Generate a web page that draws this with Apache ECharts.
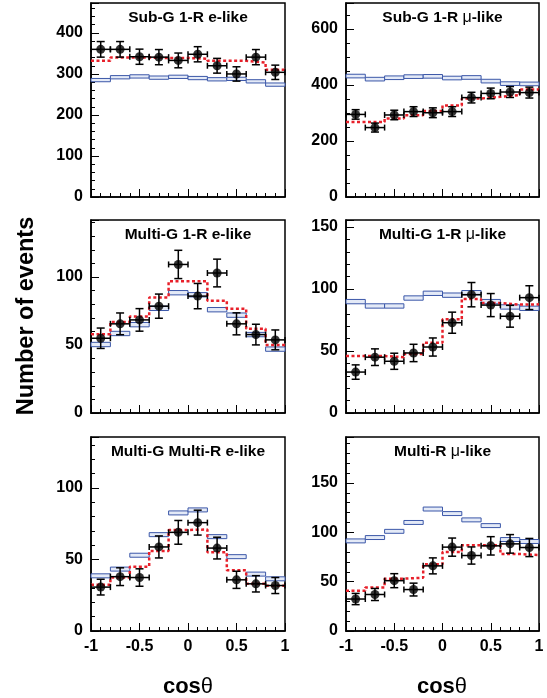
<!DOCTYPE html>
<html><head><meta charset="utf-8">
<script src="https://cdn.jsdelivr.net/npm/echarts@6/dist/echarts.min.js"></script>
<style>html,body{margin:0;padding:0;background:#fff}#c{width:547px;height:698px}</style>
</head><body><div id="c"></div>
<script>
// bin edges in cos(theta)
const binEdges = [-1,-0.8,-0.6,-0.4,-0.2,0,0.2,0.4,0.6,0.8,1];
const binCenters = [-0.9,-0.7,-0.5,-0.3,-0.1,0.1,0.3,0.5,0.7,0.9];

// panel titles (prefix, mu?, suffix)
const titlePre = ['Sub-G 1-R e-like','Sub-G 1-R ','Multi-G 1-R e-like','Multi-G 1-R ','Multi-G Multi-R e-like','Multi-R '];
const titleMu  = ['', '\u03bc', '', '\u03bc', '', '\u03bc'];
const titlePost= ['', '-like', '', '-like', '', '-like'];

// y axis ranges / tick steps
const yMax = [473, 693, 142, 155.6, 135.7, 196.6];
const yStep = [100, 200, 50, 50, 50, 50];
const yMinorSplit = [5, 4, 5, 5, 5, 5];

// Panel 1: Sub-G 1-R e-like
const p1Data = [360,360,342,341,333,348,320,300,341,304];
const p1Err  = [19,19,18.5,18.5,18,18.5,18,17.5,18.5,17.5];
const p1Fit  = [332,340,340,339,339,337,332,332,328,310];
const p1Nom  = [285,292,294,291,293,290,287,288,282,274];
const p1NomE = [4,4,4,4,4,4,4,4,4,4];

// Panel 2: Sub-G 1-R mu-like
const p2Data = [295,248,293,305,301,305,355,370,375,373];
const p2Err  = [17,16,17,17.5,17.5,17.5,19,19,19.5,19.5];
const p2Fit  = [268,268,280,292,307,327,352,358,364,384];
const p2Nom  = [432,421,426,430,431,425,427,414,405,404];
const p2NomE = [6.5,6.5,6.5,6.5,6.5,6.5,6.5,6.5,6.5,6.5];

// Panel 3: Multi-G 1-R e-like
const p3Data = [55,65.6,68.5,78.6,109.3,86,103,65.6,57.7,53.8];
const p3Err  = [7.5,8,8.3,8.9,10.4,9.3,10.2,8.1,7.6,7.3];
const p3Fit  = [58,67,71,85,97,97,82.5,76.7,62,50];
const p3Nom  = [50.4,58.5,65,77,88.5,87,76,72,57.7,47];
const p3NomE = [1.6,1.6,1.6,1.6,1.6,1.6,1.6,1.6,1.6,1.6];

// Panel 4: Multi-G 1-R mu-like
const p4Data = [33,45,41.7,48.4,53.2,72.8,95.4,87,78,93];
const p4Err  = [5.8,6.7,6.5,7,7.3,8.5,9.8,9.3,8.8,9.6];
const p4Fit  = [46,46,45,47.6,56.7,75.5,92,88.7,87.4,87.6];
const p4Nom  = [89.8,86.3,86.3,92.7,96.5,95,97,89.8,85.5,84.4];
const p4NomE = [1.75,1.75,1.75,1.75,1.75,1.75,1.75,1.75,1.75,1.75];

// Panel 5: Multi-G Multi-R e-like
const p5Data = [30.7,38,37.4,58.8,69,75.8,58,35.8,33,31.8];
const p5Err  = [5.5,6.2,6.1,7.7,8.3,8.7,7.6,6,5.7,5.6];
const p5Fit  = [32.3,37.4,45,56,70.7,71,55,42.5,33,31.6];
const p5Nom  = [38.6,43.3,53,67.4,82.6,84.7,66,52,39.8,36.5];
const p5NomE = [1.4,1.4,1.4,1.4,1.4,1.4,1.4,1.4,1.4,1.4];

// Panel 6: Multi-R mu-like
const p6Data = [32.4,37,51,42,66,85,76.5,86.3,88.3,84.6];
const p6Err  = [5.7,6.1,7.1,6.5,8.1,9.2,8.7,9.3,9.4,9.2];
const p6Fit  = [40.8,44,53,54,67.7,80,87,87,78,77];
const p6Nom  = [91.3,94.7,101,110,123.6,119,112.6,106.8,92.7,90.7];
const p6NomE = [2,2,2,2,2,2,2,2,2,2];

const panels = [
  [p1Data,p1Err,p1Fit,p1Nom,p1NomE],
  [p2Data,p2Err,p2Fit,p2Nom,p2NomE],
  [p3Data,p3Err,p3Fit,p3Nom,p3NomE],
  [p4Data,p4Err,p4Fit,p4Nom,p4NomE],
  [p5Data,p5Err,p5Fit,p5Nom,p5NomE],
  [p6Data,p6Err,p6Fit,p6Nom,p6NomE]
];

const FONT = '"Liberation Sans", Arial, Helvetica, sans-serif';
const gridPos = [
  {left:91, top:3, width:194, height:194},
  {left:346, top:3, width:193, height:194},
  {left:91, top:220, width:194, height:193},
  {left:346, top:220, width:193, height:193},
  {left:91, top:437, width:194, height:194},
  {left:346, top:437, width:193, height:194}
];

const grids = [], xAxes = [], yAxes = [], series = [], graphics = [];
panels.forEach((p, i) => {
  const [dat, err, fit, nom, nomE] = p;
  grids.push(Object.assign({show:true, borderColor:'#000', borderWidth:1.5, backgroundColor:'transparent'}, gridPos[i]));
  const bottomRow = i >= 4;
  xAxes.push({
    gridIndex:i, type:'value', min:-1, max:1, interval:0.5, position:'bottom',
    axisLine:{show:true, onZero:false, lineStyle:{color:'#000', width:1.5}},
    axisTick:{show:true, inside:true, length:8, lineStyle:{color:'#000', width:1}},
    minorTick:{show:true, splitNumber:5, length:4, lineStyle:{color:'#000', width:1}},
    splitLine:{show:false}, minorSplitLine:{show:false},
    axisLabel:{show:bottomRow, color:'#000', fontFamily:FONT, fontWeight:'bold', fontSize:16, margin:8,
      formatter: v => String(v)}
  });
  const st = yStep[i];
  yAxes.push({
    gridIndex:i, type:'value', min:0, max:yMax[i], interval:st, position:'left',
    axisLine:{show:true, onZero:false, lineStyle:{color:'#000', width:1.5}},
    axisTick:{show:true, inside:true, length:8, lineStyle:{color:'#000', width:1}},
    minorTick:{show:true, splitNumber:yMinorSplit[i], length:4, lineStyle:{color:'#000', width:1}},
    splitLine:{show:false}, minorSplitLine:{show:false},
    axisLabel:{color:'#000', fontFamily:FONT, fontWeight:'bold', fontSize:16, margin:8,
      formatter: v => (Math.abs(v / st - Math.round(v / st)) < 1e-6 ? String(v) : '')}
  });
  // nominal prediction boxes
  series.push({
    type:'custom', xAxisIndex:i, yAxisIndex:i, silent:true, z:2,
    data: nom.map((v, k) => [binEdges[k], binEdges[k+1], v, nomE[k]]),
    renderItem: (params, api) => {
      const a = api.coord([api.value(0), api.value(2) + api.value(3)]);
      const b = api.coord([api.value(1), api.value(2) - api.value(3)]);
      return {type:'rect', shape:{x:a[0], y:a[1], width:b[0]-a[0], height:b[1]-a[1]},
        style:{fill:'#e4eaf7', stroke:'#3b57a8', lineWidth:1}};
    }
  });
  // best-fit step line
  const stepData = fit.map((v, k) => [binEdges[k], v]);
  stepData.push([binEdges[10], fit[9]]);
  series.push({
    type:'line', xAxisIndex:i, yAxisIndex:i, step:'end', showSymbol:false, silent:true, z:3,
    data: stepData,
    lineStyle:{color:'#e8202a', width:2.5, type:[3,2.5]}
  });
  // data error bars
  series.push({
    type:'custom', xAxisIndex:i, yAxisIndex:i, silent:true, z:4,
    data: dat.map((v, k) => [binCenters[k], v, err[k], binEdges[k], binEdges[k+1]]),
    renderItem: (params, api) => {
      const x = api.value(0), y = api.value(1), e = api.value(2);
      const c = api.coord([x, y]);
      const t = api.coord([x, y + e]);
      const bt = api.coord([x, y - e]);
      const l = api.coord([api.value(3), y]);
      const r = api.coord([api.value(4), y]);
      const sty = {stroke:'#000', lineWidth:1.5};
      const cw = 4, ch = 3;
      return {type:'group', children:[
        {type:'line', shape:{x1:c[0], y1:t[1], x2:c[0], y2:bt[1]}, style:sty},
        {type:'line', shape:{x1:c[0]-cw, y1:t[1], x2:c[0]+cw, y2:t[1]}, style:sty},
        {type:'line', shape:{x1:c[0]-cw, y1:bt[1], x2:c[0]+cw, y2:bt[1]}, style:sty},
        {type:'line', shape:{x1:l[0], y1:c[1], x2:r[0], y2:c[1]}, style:sty},
        {type:'line', shape:{x1:l[0], y1:c[1]-ch, x2:l[0], y2:c[1]+ch}, style:sty},
        {type:'line', shape:{x1:r[0], y1:c[1]-ch, x2:r[0], y2:c[1]+ch}, style:sty}
      ]};
    }
  });
  // data markers
  series.push({
    type:'scatter', xAxisIndex:i, yAxisIndex:i, silent:true, z:5,
    symbol:'circle', symbolSize:9, itemStyle:{color:'#000'},
    data: dat.map((v, k) => [binCenters[k], v])
  });
  // panel title
  const g = gridPos[i];
  graphics.push({
    type:'text', x: g.left + g.width / 2, y: g.top + 15, z:10,
    style:{
      text: '{b|' + titlePre[i] + '}' + (titleMu[i] ? '{m|' + titleMu[i] + '}{b|' + titlePost[i] + '}' : ''),
      rich:{b:{fontFamily:FONT, fontWeight:'bold', fontSize:15.5, fill:'#000'},
            m:{fontFamily:FONT, fontWeight:'normal', fontSize:16, fill:'#000'}},
      align:'center', verticalAlign:'middle'
    }
  });
});

graphics.push({
  type:'text', x:27, y:316, rotation:Math.PI/2, z:10,
  style:{text:'Number of events', fontFamily:FONT, fontWeight:'bold', fontSize:23.5, fill:'#000',
    align:'center', verticalAlign:'middle'}
});
[188, 442].forEach(cx => {
  graphics.push({
    type:'text', x:cx, y:687, z:10,
    style:{text:'{a|cos}{b|\u03b8}',
      rich:{a:{fontFamily:FONT, fontWeight:'bold', fontSize:22, fill:'#000'},
            b:{fontFamily:FONT, fontWeight:'normal', fontSize:22, fill:'#000'}},
      align:'center', verticalAlign:'middle'}
  });
});

const chart = echarts.init(document.getElementById('c'), null, {renderer:'canvas'});
chart.setOption({
  animation:false, backgroundColor:'#fff',
  grid:grids, xAxis:xAxes, yAxis:yAxes, series:series, graphic:graphics
});
</script>
</body></html>
